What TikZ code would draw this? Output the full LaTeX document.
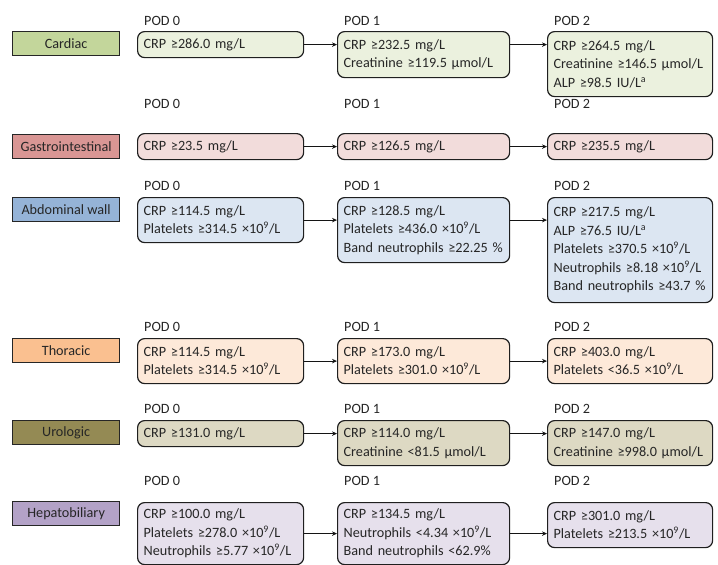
\documentclass[tikz,border=0pt]{standalone}
\usepackage{fontspec}
\setmainfont{Carlito}
\usetikzlibrary{arrows.meta}

\definecolor{inktxt}{RGB}{38,38,38}
\definecolor{cardA}{RGB}{195,214,155}
\definecolor{cardB}{RGB}{235,241,222}
\definecolor{gastA}{RGB}{217,150,148}
\definecolor{gastB}{RGB}{242,220,219}
\definecolor{abdoA}{RGB}{149,179,215}
\definecolor{abdoB}{RGB}{220,230,242}
\definecolor{thorA}{RGB}{250,192,144}
\definecolor{thorB}{RGB}{253,233,217}
\definecolor{uroA}{RGB}{148,138,84}
\definecolor{uroB}{RGB}{221,217,195}
\definecolor{hepA}{RGB}{179,162,199}
\definecolor{hepB}{RGB}{230,224,236}

\tikzset{
  txt/.style={text=inktxt, font=\fontsize{14.2}{18.5}\selectfont},
  grp/.style={txt, draw=black!85, line width=1.3pt, fill=#1,
    minimum width=107pt, minimum height=24pt, inner sep=0pt, anchor=north west},
  pod/.style={txt, draw=black!88, line width=1.2pt, fill=#1,
    rounded corners=7pt, anchor=north west, inner xsep=6pt, inner ysep=0pt, align=left},
  w0/.style={text width=154pt},
  w1/.style={text width=160pt},
  w2/.style={text width=153pt},
  podlbl/.style={txt, anchor=base west, inner sep=0pt},
  flow/.style={-{Stealth[length=5pt,width=4.5pt]}, line width=1.1pt, draw=black!92},
}
\newcommand{\ninep}{\textsuperscript{9}}

\begin{document}
\begin{tikzpicture}[x=1pt,y=-1pt]
\useasboundingbox (0,0) rectangle (718,565);

% Row: Cardiac
\node (cardiac) at (12,31) [grp=cardA] {Cardiac};
\node (car0) at (137,31) [pod=cardB, w0, minimum height=26pt] {CRP ≥286.0 mg/L};
\node (car1) at (337,31) [pod=cardB, w1, minimum height=46pt] {CRP ≥232.5 mg/L\\Creatinine ≥119.5 µmol/L};
\node (car2) at (547,31) [pod=cardB, w2, minimum height=65pt] {CRP ≥264.5 mg/L\\Creatinine ≥146.5~µmol/L\\ALP ≥98.5 IU/L\textsuperscript{a}};
\node (car0l) at (144,25) [podlbl] {POD 0};
\node (car1l) at (344,25) [podlbl] {POD 1};
\node (car2l) at (554,25) [podlbl] {POD 2};
\draw [flow] (car0.east) -- (car0.east -| car1.west);
\draw [flow] (car0.east -| car1.east) -- (car0.east -| car2.west);

% Row: Gastrointestinal
\node (gastro) at (12,134) [grp=gastA] {Gastrointestinal};
\node (gas0) at (137,133) [pod=gastB, w0, minimum height=26pt] {CRP ≥23.5 mg/L};
\node (gas1) at (337,133) [pod=gastB, w1, minimum height=26pt] {CRP ≥126.5 mg/L};
\node (gas2) at (547,133) [pod=gastB, w2, minimum height=26pt] {CRP ≥235.5 mg/L};
\node (gas0l) at (144,108) [podlbl] {POD 0};
\node (gas1l) at (344,108) [podlbl] {POD 1};
\node (gas2l) at (554,108) [podlbl] {POD 2};
\draw [flow] (gas0.east) -- (gas0.east -| gas1.west);
\draw [flow] (gas0.east -| gas1.east) -- (gas0.east -| gas2.west);

% Row: Abdominal wall
\node (abdom) at (12,197) [grp=abdoA] {Abdominal wall};
\node (abd0) at (137,197) [pod=abdoB, w0, minimum height=45pt] {CRP ≥114.5 mg/L\\Platelets ≥314.5 ×10\ninep/L};
\node (abd1) at (337,197) [pod=abdoB, w1, minimum height=65pt] {CRP ≥128.5 mg/L\\Platelets ≥436.0 ×10\ninep/L\\Band neutrophils ≥22.25~\%};
\node (abd2) at (547,197) [pod=abdoB, w2, minimum height=105pt] {CRP ≥217.5 mg/L\\ALP ≥76.5 IU/L\textsuperscript{a}\\Platelets ≥370.5 ×10\ninep/L\\Neutrophils ≥8.18 ×10\ninep/L\\Band neutrophils ≥43.7~\%};
\node (abd0l) at (144,190) [podlbl] {POD 0};
\node (abd1l) at (344,190) [podlbl] {POD 1};
\node (abd2l) at (554,190) [podlbl] {POD 2};
\draw [flow] (abd0.east) -- (abd0.east -| abd1.west);
\draw [flow] (abd0.east -| abd1.east) -- (abd0.east -| abd2.west);

% Row: Thoracic
\node (thorac) at (12,338) [grp=thorA] {Thoracic};
\node (tho0) at (137,338) [pod=thorB, w0, minimum height=45pt] {CRP ≥114.5 mg/L\\Platelets ≥314.5 ×10\ninep/L};
\node (tho1) at (337,338) [pod=thorB, w1, minimum height=45pt] {CRP ≥173.0 mg/L\\Platelets ≥301.0 ×10\ninep/L};
\node (tho2) at (547,338) [pod=thorB, w2, minimum height=45pt] {CRP ≥403.0 mg/L\\Platelets <36.5 ×10\ninep/L};
\node (tho0l) at (144,331) [podlbl] {POD 0};
\node (tho1l) at (344,331) [podlbl] {POD 1};
\node (tho2l) at (554,331) [podlbl] {POD 2};
\draw [flow] (tho0.east) -- (tho0.east -| tho1.west);
\draw [flow] (tho0.east -| tho1.east) -- (tho0.east -| tho2.west);

% Row: Urologic
\node (urolog) at (12,420) [grp=uroA] {Urologic};
\node (uro0) at (137,420) [pod=uroB, w0, minimum height=26pt] {CRP ≥131.0 mg/L};
\node (uro1) at (337,420) [pod=uroB, w1, minimum height=45pt] {CRP ≥114.0 mg/L\\Creatinine <81.5 µmol/L};
\node (uro2) at (547,420) [pod=uroB, w2, minimum height=45pt] {CRP ≥147.0 mg/L\\Creatinine ≥998.0~µmol/L};
\node (uro0l) at (144,413) [podlbl] {POD 0};
\node (uro1l) at (344,413) [podlbl] {POD 1};
\node (uro2l) at (554,413) [podlbl] {POD 2};
\draw [flow] (uro0.east) -- (uro0.east -| uro1.west);
\draw [flow] (uro0.east -| uro1.east) -- (uro0.east -| uro2.west);

% Row: Hepatobiliary
\node (hepato) at (12,501) [grp=hepA] {Hepatobiliary};
\node (hep0) at (137,502) [pod=hepB, w0, minimum height=62pt] {CRP ≥100.0 mg/L\\Platelets ≥278.0 ×10\ninep/L\\Neutrophils ≥5.77 ×10\ninep/L};
\node (hep1) at (337,502) [pod=hepB, w1, minimum height=62pt] {CRP ≥134.5 mg/L\\Neutrophils <4.34 ×10\ninep/L\\Band neutrophils <62.9\%};
\node (hep2) at (547,502) [pod=hepB, w2, minimum height=45pt] {CRP ≥301.0 mg/L\\Platelets ≥213.5 ×10\ninep/L};
\node (hep0l) at (144,485) [podlbl] {POD 0};
\node (hep1l) at (344,485) [podlbl] {POD 1};
\node (hep2l) at (554,485) [podlbl] {POD 2};
\draw [flow] (hep0.east) -- (hep0.east -| hep1.west);
\draw [flow] (hep0.east -| hep1.east) -- (hep0.east -| hep2.west);

\end{tikzpicture}
\end{document}
